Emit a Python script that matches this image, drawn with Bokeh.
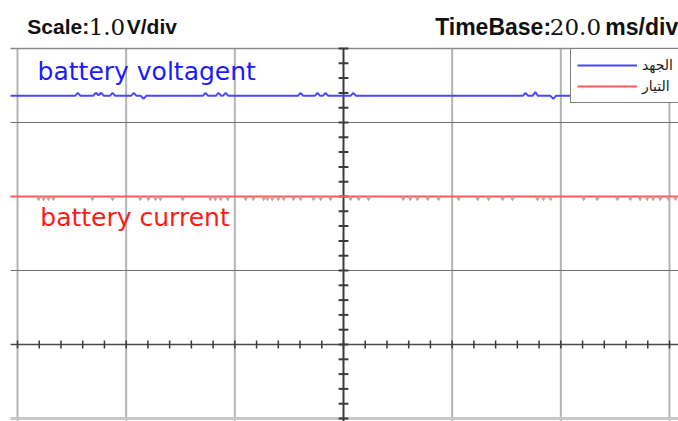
from bokeh.plotting import figure
from bokeh.models import Range1d, Label, Legend, LegendItem
from bokeh.embed import file_html
from bokeh.resources import INLINE

# ---- data (time in ms, values in V) ----
x_grid = [-60, -40, -20, 20, 40, 60]
y_grid_inner = [1, 2, 3]
y_top = [4]
y_bottom = [-1]

volt_t = [-61.3, -49.4, -48.9, -48.4, -46.1, -45.6, -45.1, -44.6, -44.1, -43.0, -42.5, -42.0,
          -39.1, -38.6, -38.1, -37.3, -36.8, -36.3, -25.9, -25.4, -24.9, -23.5, -23.0, -22.5,
          -22.2, -21.7, -21.2, -8.4, -7.9, -7.4, -5.3, -4.8, -4.3, -3.8, -3.3, -2.8,
          1.3, 1.8, 2.3, 33.0, 33.5, 34.0, 34.8, 35.3, 35.8, 38.1, 38.6, 39.1, 44.0]
volt_v = [3.36, 3.36, 3.40, 3.36, 3.36, 3.40, 3.37, 3.40, 3.36, 3.36, 3.40, 3.36,
          3.36, 3.40, 3.36, 3.36, 3.32, 3.36, 3.36, 3.40, 3.36, 3.36, 3.40, 3.36,
          3.36, 3.40, 3.36, 3.36, 3.40, 3.36, 3.36, 3.40, 3.36, 3.36, 3.40, 3.36,
          3.36, 3.40, 3.36, 3.36, 3.40, 3.36, 3.36, 3.41, 3.36, 3.36, 3.32, 3.36, 3.36]

cur_t = [-61.3, 61.6]
cur_v = [2.0, 2.0]
cur_dip_t = [-56.1, -55.2, -54.3, -53.4, -46.2, -42.5, -37.4, -35.9, -34.6, -33.7, -29.6,
             -24.5, -23.6, -22.6, -21.3, -18.0, -16.6, -14.7, -14.0, -13.1, -12.0, -11.0,
             -9.2, -7.9, -5.5, -4.2, -2.4, 1.3, 2.8, 4.6, 11.0, 12.3, 13.6, 15.5, 17.5,
             21.2, 24.7, 26.7, 29.3, 31.1, 35.7, 36.8, 38.1, 44.2, 46.7, 50.4, 52.8, 54.6,
             55.9, 57.0, 58.3, 59.8, 61.1]
cur_dip_v = [1.975] * len(cur_dip_t)

axis_x_ticks = [-60 + 4 * i for i in range(31)]
axis_y_ticks = [round(-1 + 0.2 * i, 2) for i in range(26)]

X0, X1 = -63.13, 61.66
Y0, Y1 = -1.0405, 4.6486
HL, HR = -61.29, X1      # horizontal line extent
VB, VT = Y0, 4.0         # vertical line extent

p = figure(width=678, height=421, output_backend="svg", toolbar_location=None,
           x_axis_type=None, y_axis_type=None,
           x_range=Range1d(X0, X1), y_range=Range1d(Y0, Y1),
           min_border_left=0, min_border_right=0, min_border_top=0, min_border_bottom=0)
p.outline_line_color = None
p.background_fill_color = "white"
p.border_fill_color = "white"


def hlines(ys, color, width):
    n = len(ys)
    p.segment(x0=[HL] * n, x1=[HR] * n, y0=ys, y1=ys, line_color=color, line_width=width)


def vlines(xs, color, width):
    n = len(xs)
    p.segment(x0=xs, x1=xs, y0=[VB] * n, y1=[VT] * n, line_color=color, line_width=width)


# grid
vlines(x_grid, "#b4b4b4", 2)
hlines(y_grid_inner, "#6e6e6e", 1)
hlines(y_top, "#8a8a8a", 1.5)
hlines(y_bottom, "#c8c8c8", 3)

# center axes
hlines([0], "#4a4a4a", 1.5)
vlines([0], "#3a3a3a", 2)
p.segment(x0=axis_x_ticks, x1=axis_x_ticks,
          y0=[-0.054] * len(axis_x_ticks), y1=[0.054] * len(axis_x_ticks),
          line_color="#3a3a3a", line_width=1.5)
p.segment(x0=[-0.9] * len(axis_y_ticks), x1=[0.9] * len(axis_y_ticks),
          y0=axis_y_ticks, y1=axis_y_ticks, line_color="#3a3a3a", line_width=2)

# series
r_v = p.line(volt_t, volt_v, line_color="#4848ff", line_width=2)
r_c = p.line(cur_t, cur_v, line_color="#ff5a5a", line_width=2)
p.scatter(cur_dip_t, cur_dip_v, marker="inverted_triangle", size=4,
          fill_color="#d59a9a", line_color="#d59a9a")

# texts
p.add_layout(Label(x=-56.3, y=3.688, text="battery voltagent", text_font="DejaVu Sans",
                   text_font_size="25px", text_color="#1a1aff", text_baseline="alphabetic"))
p.add_layout(Label(x=-55.8, y=1.71, text="battery current", text_font="DejaVu Sans",
                   text_font_size="25px", text_color="#ff1a1a", text_baseline="alphabetic"))

hy = 4.297
p.add_layout(Label(x=-58.2, y=hy, text="Scale:", text_font="Liberation Sans", text_font_style="bold",
                   text_font_size="21px", text_color="#111111", text_baseline="alphabetic"))
p.add_layout(Label(x=-46.9, y=hy, text="1.0", text_font="DejaVu Serif",
                   text_font_size="23px", text_color="#111111", text_baseline="alphabetic"))
p.add_layout(Label(x=-39.9, y=hy, text="V/div", text_font="Liberation Sans", text_font_style="bold",
                   text_font_size="21px", text_color="#111111", text_baseline="alphabetic"))
p.add_layout(Label(x=61.6, y=hy, text="ms/div", text_font="Liberation Sans", text_font_style="bold",
                   text_font_size="23px", text_color="#111111", text_baseline="alphabetic", text_align="right"))
p.add_layout(Label(x=47.4, y=hy, text="20.0", text_font="DejaVu Serif",
                   text_font_size="23px", text_color="#111111", text_baseline="alphabetic", text_align="right"))
p.add_layout(Label(x=38.2, y=hy, text="TimeBase:", text_font="Liberation Sans", text_font_style="bold",
                   text_font_size="23px", text_color="#111111", text_baseline="alphabetic", text_align="right"))

legend = Legend(items=[LegendItem(label="الجهد", renderers=[r_v]),
                       LegendItem(label="التيار", renderers=[r_c])],
                location=(570, 318), border_line_color="black", border_line_width=1,
                background_fill_color="white", background_fill_alpha=1.0,
                padding=6, spacing=1, label_height=20, glyph_height=20, glyph_width=60,
                label_standoff=5, margin=0, label_text_font="DejaVu Sans",
                label_text_font_size="14px", label_text_color="#222222")
p.add_layout(legend)

open("out.html", "w").write(file_html(p, INLINE))
